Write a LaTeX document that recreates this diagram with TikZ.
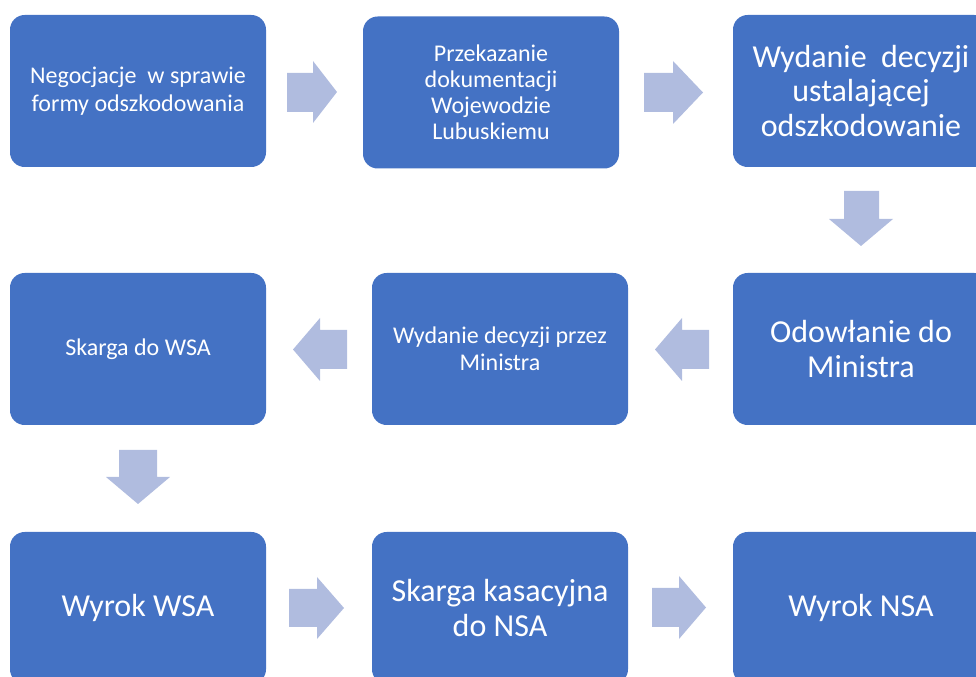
\documentclass[tikz,border=0pt]{standalone}
\usepackage{fontspec}
\setmainfont{Carlito}
\definecolor{boxblue}{HTML}{4472C4}
\definecolor{arrowblue}{HTML}{B0BCDF}
\begin{document}
\begin{tikzpicture}[x=0.75pt,y=-0.75pt,
  box/.style={fill=boxblue, draw=none, rounded corners=11pt, text=white,
    minimum width=192pt, minimum height=114pt, align=center, inner sep=0pt},
  small/.style={font=\fontsize{18}{21}\selectfont},
  large/.style={font=\fontsize{24}{26}\selectfont},
  blockarrow/.style={fill=arrowblue, draw=none}]
\useasboundingbox (0,0) rectangle (976,677);
\begin{scope}
\clip (0,0) rectangle (976,677);
% row 1
\node[box, small] (b1) at (138,91) {Negocjacje\ \ w sprawie\\formy odszkodowania};
\node[box, font=\fontsize{18}{19.5}\selectfont] (b2) at (491,92.5) {Przekazanie\\dokumentacji\\Wojewodzie\\Lubuskiemu};
\node[box, large] (b3) at (861,91) {Wydanie\ \ decyzji\\ustalającej\\odszkodowanie};
% row 2
\node[box, small] (b4) at (138,349) {Skarga do WSA};
\node[box, font=\fontsize{18}{20}\selectfont] (b5) at (500,349) {Wydanie decyzji przez\\Ministra};
\node[box, large] (b6) at (861,349) {Odowłanie do\\Ministra};
% row 3
\node[box, large] (b7) at (138,608) {Wyrok WSA};
\node[box, large] (b8) at (500,608) {Skarga kasacyjna\\do NSA};
\node[box, large] (b9) at (861,608) {Wyrok NSA};
\end{scope}
% arrows (block shapes)
% right arrows
\fill[blockarrow] (287,73) -- (313,73) -- (313,61) -- (337,92) -- (313,123) -- (313,112) -- (287,112) -- cycle;
\fill[blockarrow] (644,73) -- (673,73) -- (673,61) -- (703,92.5) -- (673,124) -- (673,112) -- (644,112) -- cycle;
\fill[blockarrow] (289,589) -- (317,589) -- (317,577) -- (344,608) -- (317,639) -- (317,627) -- (289,627) -- cycle;
\fill[blockarrow] (652,588) -- (679,588) -- (679,576) -- (706,607.5) -- (679,639) -- (679,627) -- (652,627) -- cycle;
% down arrows
\fill[blockarrow] (844,191) -- (844,219) -- (829,219) -- (861,246) -- (893,219) -- (879,219) -- (879,191) -- cycle;
\fill[blockarrow] (119,450) -- (119,477) -- (106,477) -- (138,504) -- (170,477) -- (157,477) -- (157,450) -- cycle;
% left arrows
\fill[blockarrow] (347,330) -- (320,330) -- (320,318) -- (293,349.5) -- (320,381) -- (320,369) -- (347,369) -- cycle;
\fill[blockarrow] (709,330) -- (682,330) -- (682,318) -- (655,349.5) -- (682,381) -- (682,369) -- (709,369) -- cycle;
\end{tikzpicture}
\end{document}
